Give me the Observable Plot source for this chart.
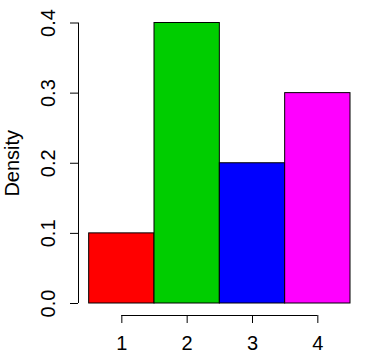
<!DOCTYPE html>
<html>
<head>
<meta charset="utf-8">
<script src="https://cdn.jsdelivr.net/npm/d3@7"></script>
<script src="https://cdn.jsdelivr.net/npm/@observablehq/plot@0.6"></script>
<style>
  html, body { margin: 0; padding: 0; background: #fff; }
</style>
</head>
<body>
<div id="chart"></div>
<script>
const binStart = [0.5, 1.5, 2.5, 3.5];
const binEnd = [1.5, 2.5, 3.5, 4.5];
const density = [0.1, 0.4, 0.2, 0.3];
const colors = ["#FF0000", "#00CD00", "#0000FF", "#FF00FF"];
const xTicks = [1, 2, 3, 4];
const yTicks = [0.0, 0.1, 0.2, 0.3, 0.4];

const bars = binStart.map((s, i) => ({x1: s, x2: binEnd[i], y: density[i], fill: colors[i]}));

const font = "'Liberation Sans', Arial, Helvetica, sans-serif";

const chart = Plot.plot({
  width: 376,
  height: 360,
  marginLeft: 88.67,
  marginRight: 26,
  marginTop: 22.5,
  marginBottom: 57,
  style: {fontFamily: font, fontSize: "20px", background: "#fff", color: "#000"},
  x: {domain: [0.5, 4.5], axis: null},
  y: {domain: [0, 0.4], axis: null},
  marks: [
    Plot.rectY(bars, {x1: "x1", x2: "x2", y: "y", fill: "fill", stroke: "#000", strokeWidth: 1}),
    // y axis
    Plot.ruleX([0.5], {x: d => d, y1: 0, y2: 0.4, dx: -10.67, stroke: "#000"}),
    Plot.axisY({ticks: yTicks, tickSize: 8, dx: -10.67, tickFormat: () => "", label: null, stroke: "#000"}),
    Plot.text(yTicks, {x: () => 0.5, y: d => d, text: d => d.toFixed(1), rotate: -90, textAnchor: "middle", dx: -40.67, fontSize: 20, fill: "#000"}),
    // x axis
    Plot.ruleY([0], {y: d => d, x1: xTicks[0], x2: xTicks[xTicks.length - 1], dy: 12, stroke: "#000"}),
    Plot.axisX({ticks: xTicks, tickSize: 8, dy: 12, tickPadding: 12.5, tickFormat: d => String(d), fontSize: 20, label: null, stroke: "#000"}),
    // y label
    Plot.text(["Density"], {frameAnchor: "left", text: d => d, rotate: -90, textAnchor: "middle", dx: -76.67, fontSize: 20, fill: "#000"})
  ]
});
document.getElementById("chart").appendChild(chart);
</script>
</body>
</html>
